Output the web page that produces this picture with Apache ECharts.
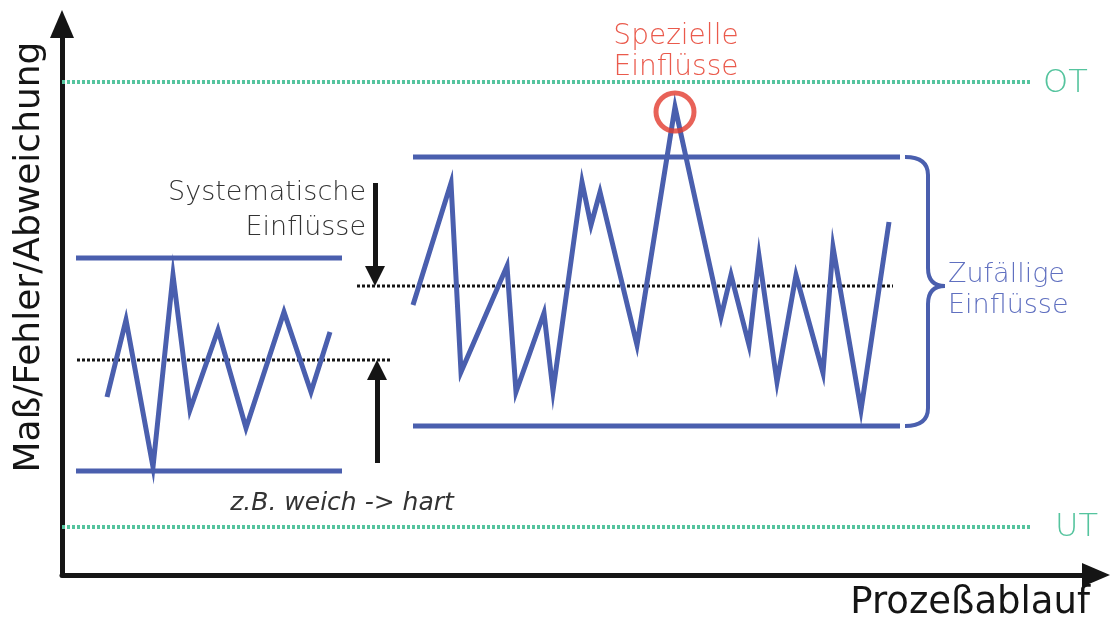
<!DOCTYPE html>
<html><head><meta charset="utf-8">
<script src="https://cdn.jsdelivr.net/npm/echarts@6/dist/echarts.min.js"></script>
<style>html,body{margin:0;padding:0;background:#fff}#c{width:1112px;height:619px}</style>
</head><body><div id="c"></div>
<script>
// Process position (x) and measure/deviation (y)
const leftX = [45, 64, 91, 111, 128, 156, 184, 222, 249, 268];
const leftY = [178, 255, 108, 300, 165, 245, 147, 263, 183, 243];
const rightX = [351, 389, 399, 445, 454, 482, 491, 520, 529, 538, 575, 613, 659, 669, 687, 697, 715, 734, 761, 771, 799, 827];
const rightY = [270, 392, 203, 309, 183, 262, 184, 393, 350, 383, 230, 468, 258, 300, 230, 319, 193, 300, 202, 328, 165, 353];

const toleranceX = [0, 968];
const OT = 493, UT = 48;

const leftBandX = [14, 280];
const leftUpper = 317, leftLower = 104;
const leftMeanX = [15, 328];
const leftMean = 215;

const rightBandX = [351, 838];
const rightUpper = 418, rightLower = 149;
const rightMeanX = [295, 831];
const rightMean = 289;

const specialPoint = [613, 463];
const shiftArrowX = 313;
const braceX = [843, 866, 883];

const blue = '#4a5fae', green = '#55c49e', red = '#e23b2e', dark = '#151515';

function pairs(xs, ys) { return xs.map((x, i) => [x, ys[i]]); }
function hline(x, y) { return [[x[0], y], [x[1], y]]; }

const chart = echarts.init(document.getElementById('c'));
chart.setOption({
  animation: false,
  grid: { left: 62, right: 16, top: 24, bottom: 44 },
  xAxis: {
    type: 'value', min: 0, max: 1034,
    axisLine: { show: true, symbol: ['none', 'triangle'], symbolSize: [24, 28], lineStyle: { color: dark, width: 5 } },
    axisTick: { show: false }, axisLabel: { show: false }, splitLine: { show: false }
  },
  yAxis: {
    type: 'value', min: 0, max: 551,
    axisLine: { show: true, symbol: ['none', 'triangle'], symbolSize: [24, 28], lineStyle: { color: dark, width: 5 } },
    axisTick: { show: false }, axisLabel: { show: false }, splitLine: { show: false }
  },
  series: [
    { type: 'line', data: hline(toleranceX, OT), symbol: 'none', lineStyle: { color: green, width: 4, type: [3, 2] } },
    { type: 'line', data: hline(toleranceX, UT), symbol: 'none', lineStyle: { color: green, width: 4, type: [3, 2] } },
    { type: 'line', data: hline(leftBandX, leftUpper), symbol: 'none', lineStyle: { color: blue, width: 5 } },
    { type: 'line', data: hline(leftBandX, leftLower), symbol: 'none', lineStyle: { color: blue, width: 5 } },
    { type: 'line', data: hline(rightBandX, rightUpper), symbol: 'none', lineStyle: { color: blue, width: 5 } },
    { type: 'line', data: hline(rightBandX, rightLower), symbol: 'none', lineStyle: { color: blue, width: 5 } },
    { type: 'line', data: hline(leftMeanX, leftMean), symbol: 'none', z: 3, lineStyle: { color: dark, width: 3, type: [3, 2] } },
    { type: 'line', data: hline(rightMeanX, rightMean), symbol: 'none', z: 3, lineStyle: { color: dark, width: 3, type: [3, 2] } },
    { type: 'line', data: pairs(leftX, leftY), symbol: 'none', z: 4, lineStyle: { color: blue, width: 5, join: 'miter' } },
    { type: 'line', data: pairs(rightX, rightY), symbol: 'none', z: 4, lineStyle: { color: blue, width: 5, join: 'miter' } },
    { type: 'scatter', data: [specialPoint], symbol: 'circle', symbolSize: 38, z: 5,
      itemStyle: { color: 'rgba(0,0,0,0)', borderColor: red, borderWidth: 5 } },
    { type: 'lines', coordinateSystem: 'cartesian2d', symbol: ['none', 'triangle'], symbolSize: [18, 20], z: 5,
      lineStyle: { color: dark, width: 5, opacity: 1 },
      data: [
        { coords: [[shiftArrowX, 392], [shiftArrowX, rightMean + 10]] },
        { coords: [[shiftArrowX + 2, 112], [shiftArrowX + 2, leftMean - 10]] }
      ] },
    { type: 'custom', z: 5, data: [[braceX[0], rightUpper, braceX[1], rightMean, braceX[2], rightLower]],
      renderItem: function (params, api) {
        const tl = api.coord([api.value(0), api.value(1)]);
        const mid = api.coord([api.value(2), api.value(3)]);
        const tip = api.coord([api.value(4), api.value(3)]);
        const bl = api.coord([api.value(0), api.value(5)]);
        const x0 = tl[0], x1 = mid[0], xt = tip[0], yT = tl[1], yM = mid[1], yB = bl[1], r = 18;
        const d = 'M' + x0 + ' ' + yT + ' Q' + x1 + ' ' + yT + ' ' + x1 + ' ' + (yT + r) +
          ' L' + x1 + ' ' + (yM - r) + ' Q' + x1 + ' ' + yM + ' ' + xt + ' ' + yM +
          ' Q' + x1 + ' ' + yM + ' ' + x1 + ' ' + (yM + r) +
          ' L' + x1 + ' ' + (yB - r) + ' Q' + x1 + ' ' + yB + ' ' + x0 + ' ' + yB;
        return { type: 'path', shape: { pathData: d }, style: { fill: null, stroke: blue, lineWidth: 4 } };
      } }
  ],
  graphic: [
    { type: 'text', x: 676, y: 37, style: { text: 'Spezielle', fill: '#ea5a4c', font: '300 28px "DejaVu Sans"', align: 'center', verticalAlign: 'middle' } },
    { type: 'text', x: 676, y: 68, style: { text: 'Einflüsse', fill: '#ea5a4c', font: '300 28px "DejaVu Sans"', align: 'center', verticalAlign: 'middle' } },
    { type: 'text', x: 366, y: 193, style: { text: 'Systematische', fill: '#333', font: '300 27px "DejaVu Sans"', align: 'right', verticalAlign: 'middle' } },
    { type: 'text', x: 366, y: 228, style: { text: 'Einflüsse', fill: '#333', font: '300 27px "DejaVu Sans"', align: 'right', verticalAlign: 'middle' } },
    { type: 'text', x: 948, y: 275, style: { text: 'Zufällige', fill: '#6070c0', font: '300 27px "DejaVu Sans"', align: 'left', verticalAlign: 'middle' } },
    { type: 'text', x: 948, y: 306, style: { text: 'Einflüsse', fill: '#6070c0', font: '300 27px "DejaVu Sans"', align: 'left', verticalAlign: 'middle' } },
    { type: 'text', x: 342, y: 503, style: { text: 'z.B. weich -> hart', fill: '#333', font: 'italic 300 25px "DejaVu Sans"', align: 'center', verticalAlign: 'middle' } },
    { type: 'text', x: 1043, y: 84, style: { text: 'OT', fill: green, font: '300 32px "DejaVu Sans"', align: 'left', verticalAlign: 'middle' } },
    { type: 'text', x: 1055, y: 528, style: { text: 'UT', fill: green, font: '300 32px "DejaVu Sans"', align: 'left', verticalAlign: 'middle' } },
    { type: 'text', x: 30, y: 257, rotation: Math.PI / 2, style: { text: 'Maß/Fehler/Abweichung', fill: dark, font: '36px "DejaVu Sans"', align: 'center', verticalAlign: 'middle' } },
    { type: 'text', x: 1090, y: 603, style: { text: 'Prozeßablauf', fill: dark, font: '37px "DejaVu Sans"', align: 'right', verticalAlign: 'middle' } }
  ]
});
</script></body></html>
